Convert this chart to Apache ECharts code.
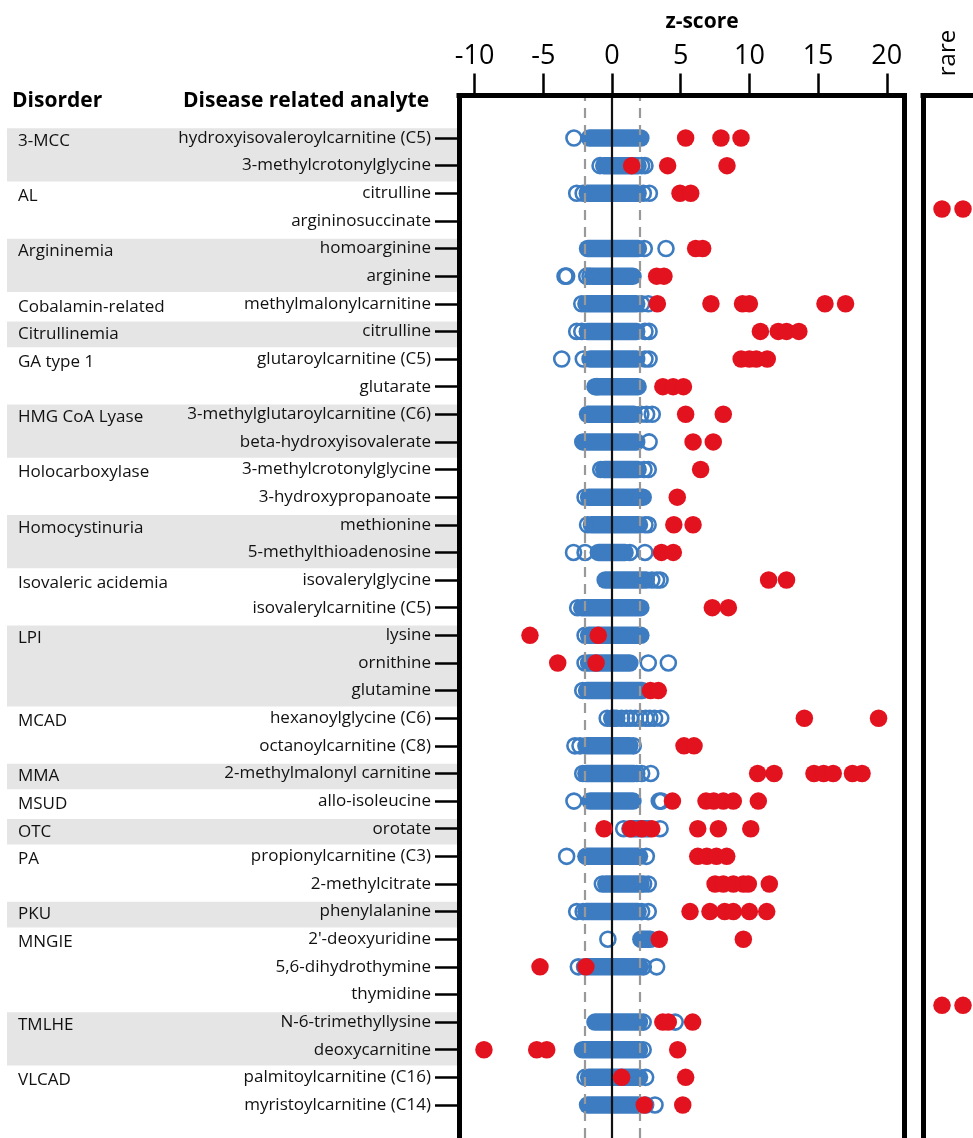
<!DOCTYPE html>
<html><head><meta charset="utf-8">
<script src="https://cdn.jsdelivr.net/npm/echarts@6/dist/echarts.min.js"></script>
<style>html,body{margin:0;padding:0;background:#fff}#c{width:973px;height:1138px}</style>
</head><body><div id="c"></div>
<script>
const analytes = [
  'hydroxyisovaleroylcarnitine (C5)','3-methylcrotonylglycine','citrulline','argininosuccinate',
  'homoarginine','arginine','methylmalonylcarnitine','citrulline','glutaroylcarnitine (C5)','glutarate',
  '3-methylglutaroylcarnitine (C6)','beta-hydroxyisovalerate','3-methylcrotonylglycine','3-hydroxypropanoate',
  'methionine','5-methylthioadenosine','isovalerylglycine','isovalerylcarnitine (C5)','lysine','ornithine',
  'glutamine','hexanoylglycine (C6)','octanoylcarnitine (C8)','2-methylmalonyl carnitine','allo-isoleucine',
  'orotate','propionylcarnitine (C3)','2-methylcitrate','phenylalanine',"2'-deoxyuridine",'5,6-dihydrothymine',
  'thymidine','N-6-trimethyllysine','deoxycarnitine','palmitoylcarnitine (C16)','myristoylcarnitine (C14)'
];
const disorderNames = ['3-MCC','AL','Argininemia','Cobalamin-related','Citrullinemia','GA type 1','HMG CoA Lyase',
  'Holocarboxylase','Homocystinuria','Isovaleric acidemia','LPI','MCAD','MMA','MSUD','OTC','PA','PKU','MNGIE','TMLHE','VLCAD'];
const disorderFirstRow = [0,2,4,6,7,8,10,12,14,16,18,21,23,24,25,26,28,29,32,34];
const disorderRowCount = [2,2,2,1,1,2,2,2,2,2,3,2,1,1,1,2,1,3,2,2];
const disorderShaded = [true,false,true,false,true,false,true,false,true,false,true,false,true,false,true,false,true,false,true,false];

const blueLo = [-1.65,-0.6,-1.8,null,-1.78,-1.4,-1.9,-1.8,-1.6,-1.24,-1.78,-2.13,-0.5,-1.7,-1.5,-1.0,-0.5,-2.2,
  -1.7,-1.7,-1.85,0.0,-1.9,-1.9,-1.6,1.3,-1.9,-0.45,-1.9,2.1,-2.0,null,-1.24,-2.15,-1.7,-1.78];
const blueHi = [2.1,1.9,1.9,null,1.92,1.53,1.8,1.8,1.8,1.9,1.6,1.8,1.9,2.27,2.0,0.95,2.5,2.1,
  2.1,1.3,2.2,0.35,1.3,1.6,1.53,2.7,2.0,2.1,1.9,2.8,2.04,null,2.0,2.0,2.0,2.0];
const blueOpen = [
  [-2.77],[-0.87,2.16,2.4],[-2.57,-2.1,2.28,2.72],[],[2.35,3.93],[-3.42,-3.3,-1.84,-1.6],
  [-2.2,2.16,2.64],[-2.57,-2.2,2.4,2.7],[-3.66,-2.09,2.4,2.7],[-1.1],[2.1,2.52,2.93],[2.7],
  [-0.82,-0.6,2.33,2.64],[-1.96,1.9],[-1.78,2.4,2.63],[-2.8,-1.96,1.3,2.4],[2.9,3.25,3.5],[-2.5],
  [-1.96],[-1.96,2.64,4.1],[-2.13],[-0.35,0.0,0.7,1.05,1.35,1.7,2.05,2.45,2.75,3.1,3.55],
  [-2.7,-2.33,1.55],[-2.13,1.8,2.16,2.82],[-2.77,3.44,3.6],[0.85,3.5],[-3.3,2.5],[-0.7,2.3,2.64],
  [-2.57,-2.1,2.16,2.64],[-0.3],[-2.45,2.28,3.25],[],[2.27,4.6],[2.27],[-1.96,2.45],[2.45,3.13]
];
const redZ = [
  [5.36,7.93,9.39],[1.43,4.05,8.37],[4.95,5.73],[],[6.09,6.6],[3.25,3.78],
  [3.3,7.2,9.5,10.0,15.5,17.0],[10.8,12.1,12.7,13.6],[9.4,10.0,10.5,11.3],[3.7,4.45,5.2],[5.36,8.1],[5.9,7.37],
  [6.45],[4.75],[4.5,5.9],[3.6,4.46],[11.4,12.7],[7.3,8.47],
  [-5.97,-1.0],[-3.95,-1.16],[2.8,3.37],[14.0,19.4],[5.24,5.97],[10.6,11.8,14.7,15.4,16.1,17.5,18.2],
  [4.4,6.84,7.4,8.1,8.83,10.65],[-0.58,1.36,2.16,2.9,6.24,7.74,10.1],[6.24,6.9,7.6,8.35],
  [7.5,8.1,8.83,9.56,9.92,11.45],[5.68,7.13,8.2,8.83,10.0,11.26],[3.44,9.56],[-5.24,-1.9],[],
  [3.7,4.1,5.87],[-9.32,-5.48,-4.75,4.78],[0.7,5.36],[2.35,5.15]
];
const rareRows = [3,3,31,31];
const rareX = [3.8,8.0,3.8,8.0];
const xTicks = [-10,-5,0,5,10,15,20];
const refLines = [-2,0,2];

const BLUE = '#3d7cc1', RED = '#e3121f';
const FONT = 'Open Sans';
const xMin = -11.135, xMax = 21.252;

const disorderAtRow = {};
disorderNames.forEach((n,i)=>{ disorderAtRow[disorderFirstRow[i]] = n; });

const bandData = [];
disorderNames.forEach((n,i)=>{ if (disorderShaded[i]) bandData.push([0, disorderFirstRow[i], disorderFirstRow[i]+disorderRowCount[i]-1]); });
const barData = [];
blueLo.forEach((lo,i)=>{ if (lo !== null) barData.push([lo, blueHi[i], i]); });
const openData = [];
blueOpen.forEach((arr,i)=>arr.forEach(z=>openData.push([z,i])));
const redData = [];
redZ.forEach((arr,i)=>arr.forEach(z=>redData.push([z,i])));
const rareData = rareRows.map((r,i)=>[rareX[i], r]);

const frameLine = {show:true, onZero:false, lineStyle:{color:'#000', width:5, cap:'square'}};

const chart = echarts.init(document.getElementById('c'), null, {renderer:'canvas'});
chart.setOption({
  animation:false,
  backgroundColor:'#fff',
  grid:[
    {left:459, right:69, top:95.5, bottom:0},
    {left:459, right:69, top:124.2, bottom:19.2},
    {left:923, right:0, top:95.5, bottom:0},
    {left:923, right:0, top:109.5, bottom:4.7}
  ],
  xAxis:[
    {type:'value', gridIndex:0, min:xMin, max:xMax, position:'top', z:6,
     axisLine:frameLine, splitLine:{show:false},
     axisTick:{show:true, length:22, customValues:xTicks, lineStyle:{color:'#000', width:2.5}},
     axisLabel:{customValues:xTicks, fontSize:27, fontFamily:FONT, color:'#000', margin:26}},
    {type:'value', gridIndex:1, min:xMin, max:xMax, show:false},
    {type:'value', gridIndex:2, min:0, max:10, position:'top', z:6, axisLine:frameLine,
     axisTick:{show:false}, axisLabel:{show:false}, splitLine:{show:false}},
    {type:'value', gridIndex:3, min:0, max:10, show:false}
  ],
  yAxis:[
    {type:'value', gridIndex:0, min:0, max:1, position:'left', z:6, axisLine:frameLine,
     axisTick:{show:false}, axisLabel:{show:false}, splitLine:{show:false}},
    {type:'value', gridIndex:0, min:0, max:1, position:'right', z:6, axisLine:frameLine,
     axisTick:{show:false}, axisLabel:{show:false}, splitLine:{show:false}},
    {type:'category', gridIndex:1, data:analytes, inverse:true, z:10,
     axisLine:{show:false, onZero:false}, splitLine:{show:false},
     axisTick:{show:true, alignWithLabel:true, length:24, lineStyle:{color:'#000', width:2.5}},
     axisLabel:{interval:0, fontSize:17, fontFamily:FONT, color:'#111', margin:28}},
    {type:'category', gridIndex:1, data:analytes, inverse:true, position:'left', z:10,
     axisLine:{show:false, onZero:false}, axisTick:{show:false}, splitLine:{show:false},
     axisLabel:{interval:0, align:'left', verticalAlign:'top', lineHeight:6, margin:441, fontSize:17, fontFamily:FONT, color:'#111',
       formatter:(v,idx)=> disorderAtRow[idx] || ''}},
    {type:'value', gridIndex:2, min:0, max:1, position:'left', z:6, axisLine:frameLine,
     axisTick:{show:false}, axisLabel:{show:false}, splitLine:{show:false}},
    {type:'category', gridIndex:3, data:analytes, inverse:true, show:false}
  ],
  graphic:[
    {type:'text', x:702, y:22, style:{text:'z-score', fontSize:21, fontWeight:'bold', fontFamily:FONT, fill:'#000', align:'center', verticalAlign:'middle'}},
    {type:'text', x:12, y:101, style:{text:'Disorder', fontSize:21, fontWeight:'bold', fontFamily:FONT, fill:'#000', align:'left', verticalAlign:'middle'}},
    {type:'text', x:183, y:101, style:{text:'Disease related analyte', fontSize:21, fontWeight:'bold', fontFamily:FONT, fill:'#000', align:'left', verticalAlign:'middle'}},
    {type:'text', x:948, y:53, rotation:Math.PI/2, style:{text:'rare', fontSize:24, fontFamily:FONT, fill:'#000', align:'center', verticalAlign:'middle'}}
  ],
  series:[
    {type:'custom', xAxisIndex:1, yAxisIndex:2, z:-1, silent:true, clip:false, data:bandData,
     encode:{x:0, y:[1,2]},
     renderItem:(params, api)=>{
       const h = api.size([0,1])[1];
       const t = api.coord([0, api.value(1)])[1] - h/2 + 4;
       const b = api.coord([0, api.value(2)])[1] + h/2 + 2;
       return {type:'rect', shape:{x:7, y:t, width:450, height:b-t}, style:{fill:'#e5e5e5'}};
     }},
    {type:'line', xAxisIndex:0, yAxisIndex:0, data:[[0,0.5]], symbolSize:0, showSymbol:false, silent:true, z:1,
     lineStyle:{width:0},
     markLine:{silent:true, symbol:['none','none'], label:{show:false}, animation:false,
       data: refLines.map(v=>({xAxis:v, lineStyle: v===0 ? {color:'#111', width:2.2, type:'solid'} : {color:'#999', width:2.2, type:[10,7]}}))}},
    {type:'custom', xAxisIndex:1, yAxisIndex:2, z:3, silent:true, data:barData,
     encode:{x:[0,1], y:2},
     renderItem:(params, api)=>{
       const a = api.coord([api.value(0), api.value(2)]);
       const b = api.coord([api.value(1), api.value(2)]);
       const r = 8.75;
       return {type:'rect', shape:{x:a[0]-r, y:a[1]-r, width:b[0]-a[0]+2*r, height:2*r, r:r}, style:{fill:BLUE}};
     }},
    {type:'scatter', xAxisIndex:1, yAxisIndex:2, z:4, silent:true, data:openData, symbol:'circle', symbolSize:15,
     itemStyle:{color:'rgba(255,255,255,0)', borderColor:BLUE, borderWidth:2.6, opacity:1}},
    {type:'scatter', xAxisIndex:1, yAxisIndex:2, z:5, silent:true, data:redData, symbol:'circle', symbolSize:17.5,
     itemStyle:{color:RED, opacity:1}},
    {type:'scatter', xAxisIndex:3, yAxisIndex:5, z:5, silent:true, data:rareData, symbol:'circle', symbolSize:17.5,
     itemStyle:{color:RED, opacity:1}}
  ]
});
</script></body></html>
